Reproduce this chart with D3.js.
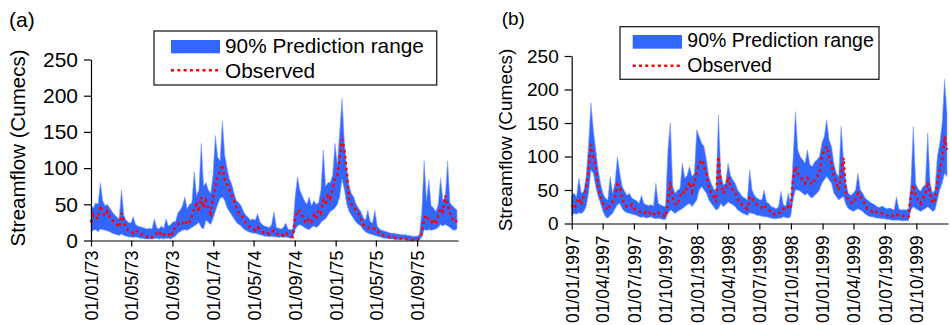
<!DOCTYPE html>
<html>
<head>
<meta charset="utf-8">
<script src="https://cdn.jsdelivr.net/npm/d3@7"></script>
<style>
  html, body { margin: 0; padding: 0; background: #fff; }
  svg { display: block; }
  text { font-family: "Liberation Sans", Arial, Helvetica, sans-serif; fill: #000; }
</style>
</head>
<body>
<svg id="chart" width="950" height="325"></svg>
<script>
// ---------- DATA (weekly samples) ----------
const aStart = "1973-01-01";
const aEnd = "1976-01-01";
const aLow = [12,14,15,12,16,15,14,13,12,10,9,8,7,9,7,6,5,5,4,5,4,3,3,2,2,2,2,3,3,2,3,2,3,3,2,4,6,10,12,14,15,14,16,18,20,22,25,18,16,28,25,22,30,40,50,58,60,55,45,40,35,30,25,22,20,16,14,12,11,10,10,9,8,7,6,6,5,6,5,5,4,5,4,5,4,3,4,15,20,22,20,18,16,15,18,20,18,20,25,28,30,35,40,42,45,50,60,85,70,50,40,35,30,25,22,20,15,12,10,9,8,7,6,5,4,3,3,2,2,2,1,1,1,1,1,0,0,0,0,0,1,5,15,14,15,14,15,16,18,22,20,22,20,18,15,14,16];
const aHigh = [48,45,52,50,80,55,48,50,45,40,36,32,30,70,35,28,25,24,33,22,20,19,18,17,16,17,16,30,18,16,20,17,30,20,22,26,26,38,42,48,60,44,50,52,95,62,70,134,75,80,70,65,90,145,115,110,165,118,100,85,78,65,55,52,48,40,35,32,28,30,28,37,26,22,20,19,18,22,40,18,17,16,18,24,16,15,16,60,88,70,62,55,50,60,48,55,50,52,70,125,75,80,80,90,134,105,150,196,135,100,75,65,60,50,45,40,32,28,42,26,24,42,20,16,14,13,12,11,10,10,9,9,8,8,8,7,7,6,6,6,8,40,110,55,84,48,45,40,50,86,55,60,110,52,48,45,42];
const aObs = [25,36,33,30,48,38,34,40,32,28,26,22,18,38,25,16,14,12,10,14,12,9,8,6,5,7,4,8,10,7,12,8,10,9,5,14,18,22,26,24,28,22,26,34,45,50,40,60,45,55,45,38,60,75,88,95,105,85,78,70,62,55,45,38,35,30,24,20,18,16,14,18,15,12,10,11,9,12,14,10,8,9,7,11,8,6,5,30,42,40,35,28,24,30,26,35,30,42,38,55,50,62,58,72,85,90,115,140,125,95,58,50,45,42,38,30,22,20,18,16,15,17,13,10,8,7,6,5,4,4,3,3,3,2,2,2,2,1,2,1,3,10,30,35,28,25,30,22,35,45,40,62,50,38,30,25,28];

const bStart = "1997-01-01";
const bEnd = "2000-01-01";
const bLow = [12,15,14,16,15,18,25,45,80,75,55,40,30,18,10,8,12,15,22,28,30,22,18,16,15,14,13,12,10,9,10,8,9,10,8,7,8,7,6,6,15,20,18,15,18,20,22,25,28,30,25,30,35,50,55,50,45,35,30,25,20,22,30,25,28,32,30,28,25,20,18,15,14,12,16,15,14,12,12,11,10,10,9,8,7,7,8,8,10,9,8,10,35,50,50,48,45,42,45,40,38,42,45,50,60,65,70,65,60,45,40,35,38,40,28,22,20,18,20,22,20,18,14,12,10,10,9,8,8,7,7,6,6,5,5,5,5,4,4,4,4,20,25,22,20,18,20,22,25,22,18,20,35,50,60,75,70];
const bHigh = [42,45,40,68,45,48,70,118,180,140,110,80,60,45,38,35,70,45,60,100,75,55,48,42,45,38,36,34,30,42,30,28,27,28,26,60,30,28,26,25,110,150,55,45,50,52,90,68,72,85,70,75,140,130,120,115,95,70,60,52,48,162,75,58,60,90,72,65,60,50,45,40,38,35,80,50,42,38,36,35,50,32,30,25,24,22,25,48,28,26,45,30,95,167,110,100,95,90,110,88,85,92,95,100,120,130,155,125,115,90,75,70,145,95,60,45,42,45,50,75,50,45,38,35,32,30,28,25,24,26,24,22,23,22,20,40,22,20,21,20,22,60,145,60,52,48,55,58,135,60,45,50,100,120,150,215,165];
const bObs = [28,22,30,38,28,42,50,80,118,100,85,55,40,30,25,20,28,32,40,58,55,38,28,25,24,28,22,20,18,16,15,17,14,18,15,12,16,14,12,10,35,62,38,30,28,40,48,45,55,62,48,60,78,90,95,85,75,55,45,40,32,100,60,45,50,70,55,50,45,38,30,28,25,22,40,38,32,28,25,24,28,22,20,16,14,13,15,18,22,20,25,22,65,85,75,70,65,60,68,62,58,65,70,75,100,110,115,100,90,70,60,50,70,98,45,35,32,30,38,45,40,35,28,22,20,18,20,16,14,15,13,12,14,12,10,13,12,10,11,9,10,40,58,40,35,30,38,42,62,45,30,35,60,80,95,130,110];

const yTickValues = [0, 50, 100, 150, 200, 250];
const aTickDates = ["1973-01-01","1973-05-01","1973-09-01","1974-01-01","1974-05-01","1974-09-01","1975-01-01","1975-05-01","1975-09-01"];
const bTickDates = ["1997-01-01","1997-04-01","1997-07-01","1997-10-01","1998-01-01","1998-04-01","1998-07-01","1998-10-01","1999-01-01","1999-04-01","1999-07-01","1999-10-01"];
const legendLabels = ["90% Prediction range", "Observed"];
const yTitle = "Streamflow (Cumecs)";
const panelLabels = ["(a)", "(b)"];

// ---------- DRAWING ----------
const parse = d3.utcParse("%Y-%m-%d");
const svg = d3.select("#chart");
const BLUE = "#3366ff";
const RED = "#ff0000";

function drawPanel(cfg) {
  const g = svg.append("g");
  const start = parse(cfg.start);
  const x = d3.scaleUtc().domain([start, parse(cfg.end)]).range([cfg.x0, cfg.x1]);
  const y = d3.scaleLinear().domain([0, 250]).range([cfg.yBot, cfg.yTop]);
  const rows = cfg.low.map((lo, i) => ({
    date: d3.utcDay.offset(start, 7 * i),
    lo: lo, hi: cfg.high[i], obs: cfg.obs[i]
  }));

  // band
  const area = d3.area().x(d => x(d.date)).y0(d => y(d.lo)).y1(d => y(d.hi));
  g.append("path").datum(rows).attr("d", area)
    .attr("fill", BLUE).attr("stroke", "#7f9dff").attr("stroke-width", 0.6);

  // observed
  const line = d3.line().x(d => x(d.date)).y(d => y(d.obs));
  g.append("path").datum(rows).attr("d", line)
    .attr("fill", "none").attr("stroke", RED).attr("stroke-width", 2.6)
    .attr("stroke-dasharray", "2.6,3.4");

  // y axis
  const ya = g.append("g").attr("transform", `translate(${cfg.x0},0)`)
    .call(d3.axisLeft(y).tickValues(yTickValues).tickSize(7).tickPadding(6).tickSizeOuter(0));
  ya.select(".domain").attr("stroke", "#000").attr("stroke-width", 1.2);
  ya.selectAll(".tick line").attr("stroke", "#000").attr("stroke-width", 1.2);
  ya.selectAll("text").style("font-size", cfg.tickFont + "px")
    .style("font-family", '"Liberation Sans", Arial, sans-serif').attr("fill", "#000");

  // x axis
  const xa = g.append("g").attr("transform", `translate(0,${cfg.yBot})`)
    .call(d3.axisBottom(x).tickValues(cfg.ticks.map(parse)).tickFormat(d3.utcFormat(cfg.fmt))
      .tickSize(6).tickSizeOuter(0));
  xa.select(".domain").attr("stroke", "#000").attr("stroke-width", 1.2);
  xa.selectAll(".tick line").attr("stroke", "#000").attr("stroke-width", 1.2);
  xa.selectAll("text")
    .style("font-size", cfg.xTickFont + "px")
    .style("font-family", '"Liberation Sans", Arial, sans-serif').attr("fill", "#000")
    .attr("transform", "rotate(-90)")
    .attr("text-anchor", "end")
    .attr("x", -cfg.xLabGap).attr("y", 0).attr("dy", "0.36em");

  // y title
  g.append("text")
    .attr("transform", `translate(${cfg.titleX},${cfg.titleY}) rotate(-90)`)
    .attr("text-anchor", "middle")
    .style("font-size", cfg.titleFont + "px")
    .text(yTitle);

  // panel label
  g.append("text").attr("x", cfg.labX).attr("y", cfg.labY)
    .style("font-size", cfg.tickFont + "px").text(cfg.label);

  // legend
  const L = cfg.leg;
  g.append("rect").attr("x", L.x).attr("y", L.y).attr("width", L.w).attr("height", L.h)
    .attr("fill", "#fff").attr("stroke", "#222").attr("stroke-width", 1.3);
  g.append("rect").attr("x", L.px).attr("y", L.py).attr("width", L.pw).attr("height", L.ph)
    .attr("fill", BLUE);
  g.append("line").attr("x1", L.px).attr("x2", L.px + L.pw).attr("y1", L.ly).attr("y2", L.ly)
    .attr("stroke", RED).attr("stroke-width", 2.4).attr("stroke-dasharray", "3,3.3");
  g.append("text").attr("x", L.tx).attr("y", L.t1).style("font-size", L.font + "px").text(legendLabels[0]);
  g.append("text").attr("x", L.tx).attr("y", L.t2).style("font-size", L.font + "px").text(legendLabels[1]);
}

drawPanel({
  start: aStart, end: aEnd, low: aLow, high: aHigh, obs: aObs,
  x0: 91, x1: 458, yTop: 59.5, yBot: 240.5,
  ticks: aTickDates, fmt: "%d/%m/%y",
  tickFont: 21, xTickFont: 18, xLabGap: 10, titleFont: 20.5,
  titleX: 25, titleY: 148, label: panelLabels[0], labX: 9, labY: 27,
  leg: { x: 154, y: 31, w: 282.7, h: 54, px: 171, py: 40, pw: 49, ph: 13.3, ly: 70.3,
         tx: 225, t1: 53.3, t2: 77.5, font: 20.8 }
});

drawPanel({
  start: bStart, end: bEnd, low: bLow, high: bHigh, obs: bObs,
  x0: 571.7, x1: 948, yTop: 56, yBot: 223.5,
  ticks: bTickDates, fmt: "%d/%m/%Y",
  tickFont: 19, xTickFont: 17.5, xLabGap: 12, titleFont: 19,
  titleX: 512, titleY: 140, label: panelLabels[1], labX: 501.7, labY: 25,
  leg: { x: 620, y: 26.7, w: 259, h: 52.6, px: 632.7, py: 35, pw: 49.3, ph: 13.7, ly: 65.7,
         tx: 687.3, t1: 46.7, t2: 71.7, font: 19.5 }
});
</script>
</body>
</html>
